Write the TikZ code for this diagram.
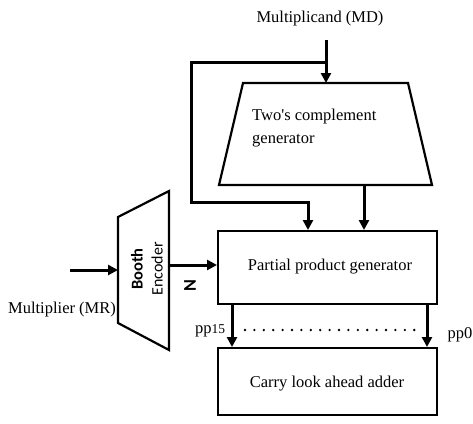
\documentclass[tikz,border=0pt]{standalone}
\usepackage{fontspec}
\setmainfont{Liberation Serif}
\newfontfamily\calib{Carlito}
\usetikzlibrary{arrows.meta}
\begin{document}
\begin{tikzpicture}[x=1pt,y=-1pt,
  wire/.style={line width=3pt,-{Triangle[length=10pt,width=10pt]}},
  shapeline/.style={line width=2.2pt,line join=miter},
  box/.style={draw,line width=2pt,rectangle,inner sep=0pt},
  lbl/.style={font=\fontsize{16.5}{18}\selectfont,inner sep=0pt},
  enc/.style={font=\calib\fontsize{16}{18}\selectfont,inner sep=0pt,rotate=90}]
\useasboundingbox (0,0) rectangle (473,423);

% boxes
\node[box,minimum width=219pt,minimum height=73pt] (ppg) at (327.5,267.5) {};
\node[lbl] (ppgt) at (330,267) {Partial product generator};
\node[box,minimum width=219pt,minimum height=67pt] (cla) at (327.5,381.5) {};
\node[lbl] (clat) at (327,384) {Carry look ahead adder};

% two's complement generator
\coordinate (tctl) at (243,83);
\coordinate (tctr) at (408,83);
\coordinate (tcbr) at (432,185);
\coordinate (tcbl) at (219,185);
\draw[shapeline] (tctl) -- (tctr) -- (tcbr) -- (tcbl) -- cycle;
\node[lbl,anchor=west] (tc1) at (252,117) {Two\textquotesingle s complement};
\node[lbl,anchor=west] (tc2) at (252,141) {generator};

% Booth encoder
\coordinate (btl) at (118,217);
\coordinate (btr) at (169,191);
\coordinate (bbr) at (169,350);
\coordinate (bbl) at (118,323);
\draw[shapeline] (btl) -- (btr) -- (bbr) -- (bbl) -- cycle;
\node[enc,font=\calib\bfseries\fontsize{16.5}{18}\selectfont] (booth) at (137,269) {Booth};
\node[enc] (encoder) at (157,269) {Encoder};

% multiplicand input
\node[lbl] (md) at (320,19) {Multiplicand (MD)};
\coordinate (mdtop) at (326,40);
\coordinate (j) at (326,62);
\coordinate (tctop) at (326,83);
\draw[wire] (mdtop) -- (tctop);
\coordinate (c1) at (191,202);
\coordinate (c2) at (308,0);
\draw[wire] (j) -| (c1) -| (ppg.north -| c2);
\coordinate (tcbot) at (364,185);
\draw[wire] (tcbot) -- (ppg.north -| tcbot);

% multiplier input
\node[lbl] (mr) at (62,310) {Multiplier (MR)};
\coordinate (mrin) at (70,270);
\coordinate (bin) at (118,270);
\draw[wire] (mrin) -- (bin);

% booth to ppg
\coordinate (bout) at (169,265);
\draw[wire] (bout) -- (ppg.west |- bout);
\node[font=\calib\bfseries\fontsize{18}{20}\selectfont,rotate=90,inner sep=0pt] (nlbl) at (190,286) {N};

% partial products
\coordinate (xl) at (232,0);
\coordinate (xr) at (427,0);
\draw[wire] (ppg.south -| xl) -- (cla.north -| xl);
\draw[wire] (ppg.south -| xr) -- (cla.north -| xr);
\foreach \i in {0,...,18} {\fill (245+\i*9.4,330) circle (1.3pt);}
\node[lbl] (pp15) at (210,331) {pp{\fontsize{13.5}{15}\selectfont 15}};
\node[lbl] (pp0) at (460,335) {pp0};
\end{tikzpicture}
\end{document}
